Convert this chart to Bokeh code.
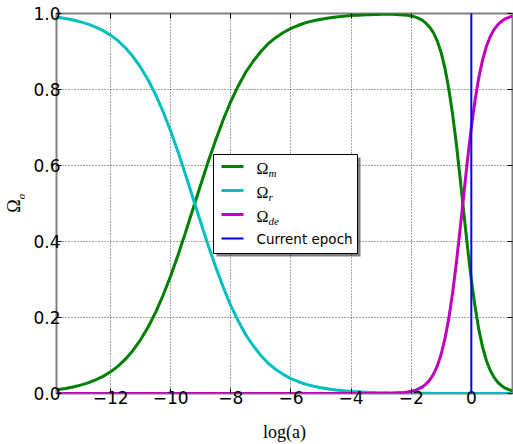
from math import pi

from bokeh.embed import file_html
from bokeh.layouts import row
from bokeh.models import FixedTicker, Label, LinearAxis, Range1d, Span
from bokeh.plotting import figure
from bokeh.resources import INLINE

# Density parameters of matter, radiation and dark energy against log(a)
log_a = [-13.8, -13.5, -13.25, -13.0, -12.75, -12.5, -12.25, -12.0, -11.75, -11.5,
         -11.25, -11.0, -10.75, -10.5, -10.25, -10.0, -9.75, -9.5, -9.25, -9.0,
         -8.75, -8.5, -8.25, -8.0, -7.75, -7.5, -7.25, -7.0, -6.75, -6.5,
         -6.25, -6.0, -5.75, -5.5, -5.25, -5.0, -4.75, -4.5, -4.25, -4.0,
         -3.875, -3.75, -3.625, -3.5, -3.375, -3.25, -3.125, -3.0, -2.875, -2.75,
         -2.625, -2.5, -2.375, -2.25, -2.125, -2.0, -1.875, -1.75, -1.625, -1.5,
         -1.375, -1.25, -1.125, -1.0, -0.875, -0.75, -0.625, -0.5, -0.375, -0.25,
         -0.125, 0.0, 0.125, 0.25, 0.375, 0.5, 0.625, 0.75, 0.875, 1.0,
         1.125, 1.25, 1.37]

omega_m = [0.010, 0.013, 0.017, 0.022, 0.028, 0.036, 0.045, 0.057, 0.072, 0.091,
           0.114, 0.142, 0.175, 0.214, 0.259, 0.310, 0.366, 0.426, 0.488, 0.550,
           0.611, 0.668, 0.721, 0.769, 0.810, 0.846, 0.875, 0.900, 0.921, 0.937,
           0.950, 0.961, 0.969, 0.976, 0.981, 0.985, 0.988, 0.991, 0.993, 0.9945,
           0.9951, 0.9957, 0.9962, 0.9966, 0.9970, 0.9973, 0.9975, 0.9977, 0.9978, 0.9978,
           0.9977, 0.9975, 0.9970, 0.9963, 0.9952, 0.9935, 0.991, 0.987, 0.982, 0.974,
           0.963, 0.948, 0.926, 0.896, 0.855, 0.802, 0.736, 0.658, 0.569, 0.476,
           0.384, 0.300, 0.228, 0.168, 0.122, 0.087, 0.062, 0.043, 0.030, 0.021,
           0.014, 0.010, 0.007]

omega_r = [0.990, 0.987, 0.983, 0.978, 0.972, 0.964, 0.955, 0.943, 0.928, 0.909,
           0.886, 0.858, 0.825, 0.786, 0.741, 0.690, 0.634, 0.574, 0.512, 0.450,
           0.389, 0.332, 0.279, 0.231, 0.190, 0.154, 0.125, 0.100, 0.079, 0.063,
           0.050, 0.039, 0.031, 0.024, 0.019, 0.015, 0.012, 0.009, 0.007, 0.0055,
           0.0048, 0.0043, 0.0038, 0.0033, 0.0029, 0.0026, 0.0023, 0.0020, 0.0018, 0.0016,
           0.0014, 0.0012, 0.0011, 0.0010, 0.0008, 0.0007, 0.0007, 0.0006, 0.0005, 0.0004,
           0.0004, 0.0003, 0.0003, 0.0002, 0.0002, 0.0002, 0.0001, 0.0001, 0.0001, 0.0001,
           0.0, 0.0, 0.0, 0.0, 0.0, 0.0, 0.0, 0.0, 0.0, 0.0,
           0.0, 0.0, 0.0]

omega_de = [0.0, 0.0, 0.0, 0.0, 0.0, 0.0, 0.0, 0.0, 0.0, 0.0,
            0.0, 0.0, 0.0, 0.0, 0.0, 0.0, 0.0, 0.0, 0.0, 0.0,
            0.0, 0.0, 0.0, 0.0, 0.0, 0.0, 0.0, 0.0, 0.0, 0.0,
            0.0, 0.0, 0.0, 0.0, 0.0, 0.0, 0.0, 0.0, 0.0, 0.0,
            0.0, 0.0, 0.0, 0.0001, 0.0001, 0.0001, 0.0002, 0.0003, 0.0004, 0.0006,
            0.0009, 0.0013, 0.0019, 0.0027, 0.0040, 0.0058, 0.0083, 0.0121, 0.0175, 0.0253,
            0.036, 0.052, 0.074, 0.104, 0.145, 0.197, 0.263, 0.342, 0.431, 0.524,
            0.616, 0.700, 0.772, 0.832, 0.878, 0.913, 0.938, 0.957, 0.970, 0.979,
            0.986, 0.990, 0.993]

current_epoch = 0.0

x_ticks = [-12, -10, -8, -6, -4, -2, 0]
x_tick_labels = ["\u221212", "\u221210", "\u22128", "\u22126", "\u22124", "\u22122", "0"]
y_ticks = [0.0, 0.2, 0.4, 0.6, 0.8, 1.0]
y_tick_labels = ["0.0", "0.2", "0.4", "0.6", "0.8", "1.0"]

series_names = ["m", "r", "de"]
series_colors = ["#008000", "#00bfbf", "#bf00bf"]
epoch_color = "#0000ff"
epoch_label = "Current epoch"
x_title = "log(a)"
y_title = "\u03a9"
y_title_sub = "\u03c3"

# Canvas and frame geometry (pixels)
W, H = 513, 444
STRIP = 25                      # strip that carries the vertical y title
FL, FR, FT, FB = 56, 1, 13, 51  # frame borders measured on the whole canvas
X0, X1 = -13.8, 1.37
Y0, Y1 = 0.0, 1.0
frame_w = W - FL - FR
frame_h = H - FT - FB


def sx(px):
    """Canvas pixel column -> data x."""
    return X0 + (px - FL) / frame_w * (X1 - X0)


def sy(py):
    """Canvas pixel row -> data y."""
    return Y1 - (py - FT) / frame_h * (Y1 - Y0)


# --- narrow strip with the y title; its frame lines up with the chart frame,
#     so its y range is expressed in canvas rows (growing downward) ---
ylab = figure(width=STRIP, height=H, x_range=Range1d(0, STRIP),
              y_range=Range1d(H - FB, FT),
              output_backend="svg", toolbar_location=None,
              x_axis_type=None, y_axis_type=None,
              min_border_left=0, min_border_right=0, min_border_top=FT, min_border_bottom=FB)
ylab.outline_line_color = None
ylab.grid.visible = False
ylab.background_fill_color = "white"
ylab.border_fill_color = "white"
ylab.add_layout(Label(x=13.5, y=205.5, text=y_title, angle=pi / 2,
                      text_font="Liberation Serif", text_font_size="18px",
                      text_align="center", text_baseline="middle", text_color="black"))
ylab.add_layout(Label(x=20, y=196, text=y_title_sub, angle=pi / 2,
                      text_font="Liberation Serif", text_font_style="italic",
                      text_font_size="11px", text_line_height=1.0, text_align="center",
                      text_baseline="middle", text_color="black"))

# --- main chart ---
p = figure(width=W - STRIP, height=H, x_range=Range1d(X0, X1), y_range=Range1d(Y0, Y1),
           output_backend="svg", toolbar_location=None,
           min_border_left=FL - STRIP, min_border_right=FR,
           min_border_top=FT, min_border_bottom=FB)
p.background_fill_color = "white"
p.border_fill_color = "white"
p.outline_line_color = "#808080"
p.outline_line_width = 2

TICK_FONT = "DejaVu Sans"
TICK_SIZE = "17px"

for ax, ticks, labels in ((p.xaxis[0], x_ticks, x_tick_labels),
                          (p.yaxis[0], y_ticks, y_tick_labels)):
    ax.ticker = FixedTicker(ticks=ticks)
    ax.major_label_overrides = dict(zip(ticks, labels))
    ax.major_label_text_font = TICK_FONT
    ax.major_label_text_font_size = TICK_SIZE
    ax.major_label_text_color = "black"
    ax.axis_line_color = None
    ax.major_tick_in = 5
    ax.major_tick_out = 0
    ax.major_tick_line_color = "black"
    ax.minor_tick_line_color = None
# inward ticks still push the labels out, so pull them back toward the frame
p.xaxis.major_label_standoff = -3
p.yaxis.major_label_standoff = -4

p.xaxis.axis_label = x_title
p.xaxis.axis_label_text_font = "Liberation Serif"
p.xaxis.axis_label_text_font_style = "normal"
p.xaxis.axis_label_text_font_size = "18px"
p.xaxis.axis_label_text_color = "black"
p.xaxis.axis_label_standoff = 15

# Tick marks along the top and right edges (labels not drawn)
for ticks, side in ((x_ticks, "above"), (y_ticks, "right")):
    extra = LinearAxis(ticker=FixedTicker(ticks=ticks),
                       major_label_text_font_size="1px", major_label_text_color=None,
                       major_label_standoff=0,
                       axis_line_color=None, major_tick_in=5, major_tick_out=0,
                       major_tick_line_color="black", minor_tick_line_color=None)
    p.add_layout(extra, side)

p.grid.grid_line_color = "black"
p.grid.grid_line_alpha = 0.7
p.grid.grid_line_dash = "1 2"
p.grid.grid_line_width = 1

for ys, c in zip((omega_m, omega_r, omega_de), series_colors):
    p.line(log_a, ys, line_color=c, line_width=3, line_join="round")

p.add_layout(Span(location=current_epoch, dimension="height",
                  line_color=epoch_color, line_width=2))

# Legend: shadow, box, sample lines, then the labels on top
box_l, box_r, box_t, box_b = 213, 357, 154, 253
p.quad(left=sx(box_l + 3), right=sx(box_r + 3), top=sy(box_t + 3), bottom=sy(box_b + 3),
       fill_color="black", fill_alpha=0.5, line_color=None)
p.quad(left=sx(box_l), right=sx(box_r), top=sy(box_t), bottom=sy(box_b),
       fill_color="white", fill_alpha=1.0, line_color="black", line_width=1)

row_y = [166, 190, 214, 238]
sample_x0, sample_x1, text_x = 221, 243, 256
for i, c in enumerate(series_colors + [epoch_color]):
    p.line([sx(sample_x0), sx(sample_x1)], [sy(row_y[i]), sy(row_y[i])],
           line_color=c, line_width=3 if i < 3 else 2)

for i, name in enumerate(series_names):
    p.add_layout(Label(x=sx(text_x), y=sy(row_y[i] + 2), text="\u03a9",
                       text_font="Liberation Serif", text_font_size="16px",
                       text_baseline="middle", text_align="left",
                       text_color="black"))
    p.add_layout(Label(x=sx(text_x + 12), y=sy(row_y[i] + 6), text=name,
                       text_font="Liberation Serif", text_font_style="italic",
                       text_font_size="11px", text_baseline="middle",
                       text_align="left", text_color="black"))
p.add_layout(Label(x=sx(text_x), y=sy(row_y[3]), text=epoch_label,
                   text_font="DejaVu Sans", text_font_size="13.5px",
                   text_baseline="middle", text_align="left",
                   text_color="black"))

layout = row(ylab, p, spacing=0)
open("out.html", "w").write(file_html(layout, INLINE))
